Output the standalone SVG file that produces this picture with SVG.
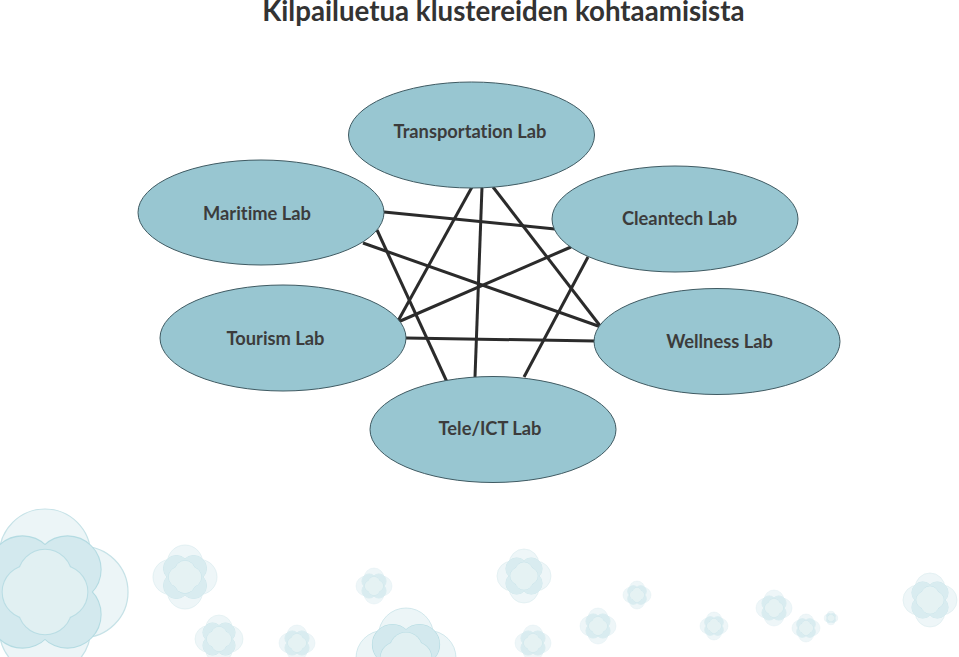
<svg xmlns="http://www.w3.org/2000/svg" width="959" height="657" viewBox="0 0 959 657">
<style>
.n{fill:#98c6d1;stroke:#3f5a62;stroke-width:1}
.l{font:bold 18.300px Lato,"Liberation Sans",Arial,sans-serif;font-variant-ligatures:none;fill:#3c3c3c;text-anchor:middle}
.t{font:bold 27.700px Lato,"Liberation Sans",Arial,sans-serif;font-variant-ligatures:none;fill:#333;text-anchor:middle}
#edges line{stroke:#2b2b2b;stroke-width:3;stroke-linecap:butt}
.o{fill:#dfeff1;fill-opacity:.6;stroke:#c6e2e7;stroke-width:1.500}
.ms{fill:none;stroke:#b4dbe2;stroke-width:2.500}
.mf{fill:#d3e9ee}
.is{fill:none;stroke:#b9dde4;stroke-width:2.500}
.if{fill:#e1f0f2}
.s{opacity:.85}
</style>
<defs>
<symbol id="c" viewBox="-100 -100 200 200" overflow="visible">
<circle class="o" cx="0" cy="-45" r="55"/><circle class="o" cx="45" cy="0" r="55"/><circle class="o" cx="0" cy="45" r="55"/><circle class="o" cx="-45" cy="0" r="55"/>
<g class="ms"><circle cx="-27" cy="-27" r="40"/><circle cx="27" cy="-27" r="40"/><circle cx="27" cy="27" r="40"/><circle cx="-27" cy="27" r="40"/></g>
<g class="mf"><circle cx="-27" cy="-27" r="40"/><circle cx="27" cy="-27" r="40"/><circle cx="27" cy="27" r="40"/><circle cx="-27" cy="27" r="40"/></g>
<g class="is"><circle cx="0" cy="-19" r="32"/><circle cx="19" cy="0" r="32"/><circle cx="0" cy="19" r="32"/><circle cx="-19" cy="0" r="32"/></g>
<g class="if"><circle cx="0" cy="-19" r="32"/><circle cx="19" cy="0" r="32"/><circle cx="0" cy="19" r="32"/><circle cx="-19" cy="0" r="32"/></g>
</symbol>
</defs>
<rect width="959" height="657" fill="#fff"/>
<g id="decor">
<use href="#c" x="-38" y="509" width="166" height="166"/>
<use class="s" href="#c" x="153" y="545" width="64" height="64"/>
<use class="s" href="#c" x="195" y="615" width="48" height="48"/>
<use class="s" href="#c" x="279" y="625" width="36" height="36"/>
<use class="s" href="#c" x="356" y="568" width="36" height="36"/>
<use href="#c" x="356" y="608" width="100" height="100"/>
<use class="s" href="#c" x="497" y="549" width="54" height="54"/>
<use class="s" href="#c" x="623" y="581" width="28" height="28"/>
<use class="s" href="#c" x="580" y="608" width="36" height="36"/>
<use class="s" href="#c" x="515" y="625" width="36" height="36"/>
<use class="s" href="#c" x="700" y="612" width="28" height="28"/>
<use class="s" href="#c" x="756" y="590" width="36" height="36"/>
<use class="s" href="#c" x="792" y="614" width="28" height="28"/>
<use class="s" href="#c" x="824" y="611" width="14" height="14"/>
<use class="s" href="#c" x="903" y="573" width="54" height="54"/>
</g>
<text class="t" x="503.500" y="21">Kilpailuetua klustereiden kohtaamisista</text>
<g id="edges">
<line x1="472" y1="187" x2="398" y2="321"/>
<line x1="482" y1="187" x2="475" y2="377"/>
<line x1="493" y1="187" x2="601" y2="327"/>
<line x1="384" y1="212" x2="555" y2="229"/>
<line x1="377" y1="230" x2="447" y2="382"/>
<line x1="363" y1="243" x2="601" y2="327"/>
<line x1="571" y1="247" x2="398" y2="322"/>
<line x1="588" y1="257" x2="524" y2="377"/>
<line x1="406" y1="338" x2="595" y2="341"/>
</g>
<g id="transportation"><ellipse class="n" cx="471.500" cy="135" rx="123" ry="53"/><text class="l" x="470" y="138">Transportation Lab</text></g>
<g id="maritime"><ellipse class="n" cx="261" cy="212.500" rx="123" ry="52.500"/><text class="l" x="257" y="220">Maritime Lab</text></g>
<g id="cleantech"><ellipse class="n" cx="675" cy="219" rx="123" ry="53"/><text class="l" x="679.500" y="225">Cleantech Lab</text></g>
<g id="tourism"><ellipse class="n" cx="283" cy="338" rx="123" ry="53"/><text class="l" x="275.500" y="345">Tourism Lab</text></g>
<g id="wellness"><ellipse class="n" cx="717" cy="341.500" rx="123" ry="53"/><text class="l" x="719.500" y="348">Wellness Lab</text></g>
<g id="tele"><ellipse class="n" cx="493" cy="429.500" rx="123" ry="53"/><text class="l" x="490" y="435">Tele/ICT Lab</text></g>
</svg>
